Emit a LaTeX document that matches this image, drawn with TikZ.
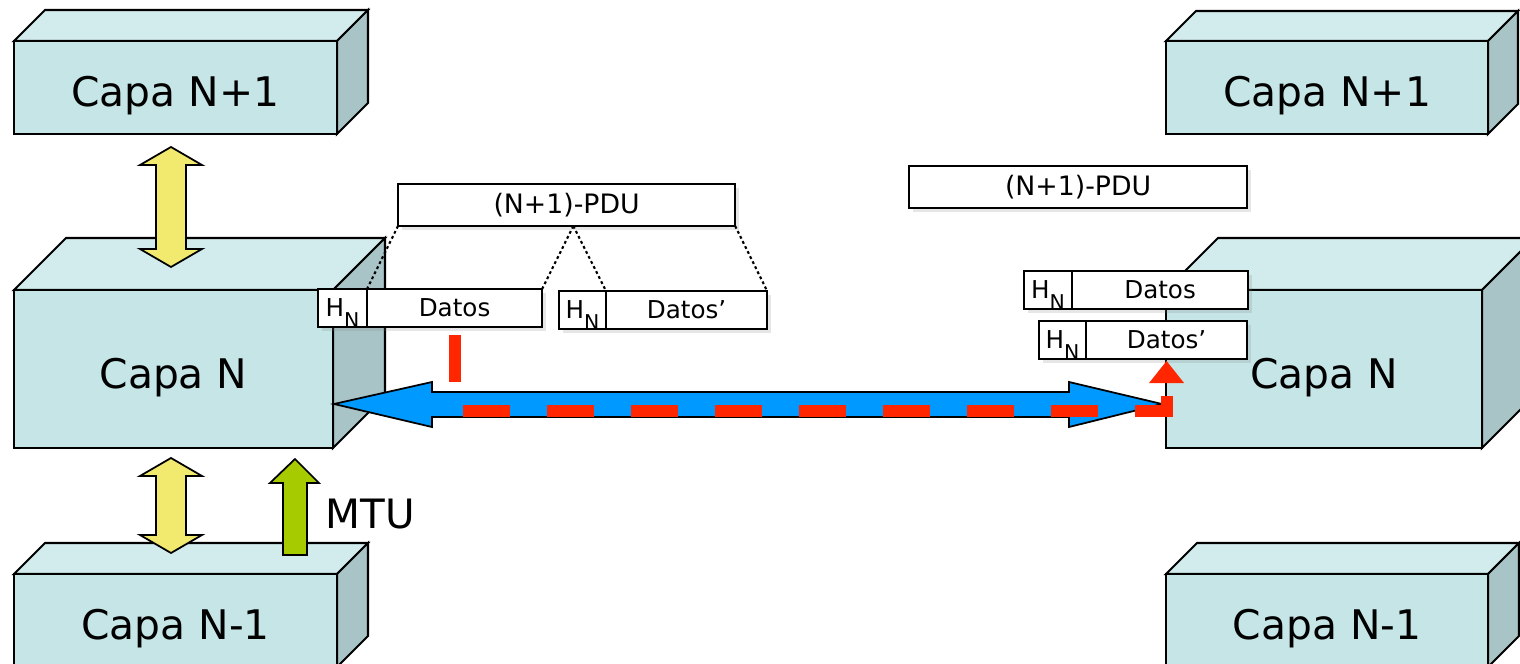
\documentclass[tikz,border=0pt]{standalone}
\usepackage{fontspec}
\setmainfont{DejaVu Sans}
\usetikzlibrary{positioning,calc,shadows,arrows.meta}

\definecolor{capafrente}{RGB}{197,229,230}
\definecolor{capatecho}{RGB}{210,235,236}
\definecolor{capalado}{RGB}{168,196,198}
\definecolor{amarillo}{RGB}{242,234,110}
\definecolor{verde}{RGB}{166,204,0}
\definecolor{azul}{RGB}{0,153,255}
\definecolor{rojo}{RGB}{255,38,0}

\newcommand{\cabN}{H\raisebox{-0.75ex}[0pt][0pt]{\fontsize{5.8}{6}\selectfont N}}

\begin{document}
\begin{tikzpicture}
  [x=0.01cm,y=-0.01cm,line join=miter,
   frente/.style={draw,line width=0.6pt,fill=capafrente,inner sep=0pt,
     text height=14pt,text depth=3pt,font=\fontsize{11.6}{14}\selectfont},
   techo/.style={draw,line width=0.6pt,fill=capatecho},
   lado/.style={draw,line width=0.6pt,fill=capalado},
   campo/.style={draw,fill=white,line width=0.6pt,inner sep=0pt,outer sep=0pt,
     minimum height=0.38cm,font=\fontsize{7}{8}\selectfont,
     drop shadow={shadow xshift=1.2pt,shadow yshift=-1.2pt,opacity=.2}},
   pdu/.style={campo,minimum height=0.42cm,font=\fontsize{7.6}{9}\selectfont},
   corte/.style={line width=0.6pt,dash pattern=on 0.8pt off 0.8pt},
   bloque/.style={draw,line width=0.5pt}]
  \clip (0,0) rectangle (1520,664);

  % capas
  \foreach \n/\x/\y/\w/\h/\d/\t in {n1l/14/41/323/93/31/Capa N+1, nl/14/290/319/158/52/Capa N,
      m1l/14/574/323/93/31/Capa N-1, n1r/1166/41/322/93/30/Capa N+1,
      nr/1166/290/316/158/52/Capa N, m1r/1166/574/322/93/31/Capa N-1}{
    \draw[techo] (\x,\y) -- ++(\d,-\d) -- ++(\w,0) -- ++(-\d,\d) -- cycle;
    \draw[lado] (\x+\w,\y) -- ++(\d,-\d) -- ++(0,\h) -- ++(-\d,\d) -- cycle;
    \node[frente,minimum width=\w*0.01cm,minimum height=\h*0.01cm] (\n) at (\x+\w/2,\y+\h/2) {\t};
  }

  % interfaces entre capas
  \foreach \ya/\yb in {147/267,458/553}
    \draw[bloque,fill=amarillo] (171,\ya) -- (202,\ya+18) -- (186,\ya+18) -- (186,\yb-18)
      -- (202,\yb-18) -- (171,\yb) -- (140,\yb-18) -- (156,\yb-18) -- (156,\ya+18)
      -- (140,\ya+18) -- cycle;
  \draw[bloque,fill=verde] (295,459) -- (319,483) -- (307,483) -- (307,555) -- (283,555)
    -- (283,483) -- (270,483) -- cycle;
  \node[anchor=base west,inner sep=0pt,font=\fontsize{11.5}{13}\selectfont] (mtu) at (325,528) {MTU};

  % segmentacion
  \node[pdu,minimum width=3.37cm,anchor=north west] (pduL) at (398,184) {(N+1)-PDU};
  \node[campo,minimum width=0.49cm,anchor=north west] (hA) at (318,289) {\cabN};
  \node[campo,minimum width=1.75cm,right=0pt of hA] (dA) {Datos};
  \node[campo,minimum width=0.47cm,anchor=north west] (hB) at (559,291) {\cabN};
  \node[campo,minimum width=1.61cm,right=0pt of hB] (dB) {Datos’};
  \coordinate (cut) at ($(pduL.south west)!0.52!(pduL.south east)$);
  \draw[corte] (pduL.south west) -- (hA.north east);
  \draw[corte] (cut) -- (dA.north east);
  \draw[corte] (cut) -- (hB.north east);
  \draw[corte] (pduL.south east) -- (dB.north east);

  % reensamblado
  \node[pdu,minimum width=3.38cm,anchor=north west] (pduR) at (909,166) {(N+1)-PDU};
  \node[campo,minimum width=0.48cm,anchor=north west] (hC) at (1024,271) {\cabN};
  \node[campo,minimum width=1.76cm,right=0pt of hC] (dC) {Datos};
  \node[campo,minimum width=0.47cm,anchor=north west] (hD) at (1039,321) {\cabN};
  \node[campo,minimum width=1.61cm,right=0pt of hD] (dD) {Datos’};

  % enlace
  \draw[bloque,fill=azul] (334,404) -- (432,382) -- (432,392) -- (1069,392) -- (1069,382)
    -- (1162,404) -- (1069,427) -- (1069,417) -- (432,417) -- (432,427) -- cycle;
  \coordinate (flow) at (0,411);
  \draw[rojo,line width=0.12cm,dash pattern=on 0.47cm off 0.37cm,
        -{Triangle[width=0.35cm,length=0.22cm,line width=0pt]}]
    ([yshift=-0.08cm]dA.south) -- (dA.south |- flow) -- (dD.south |- flow)
    -- ([yshift=-0.02cm]dD.south);
\end{tikzpicture}
\end{document}
